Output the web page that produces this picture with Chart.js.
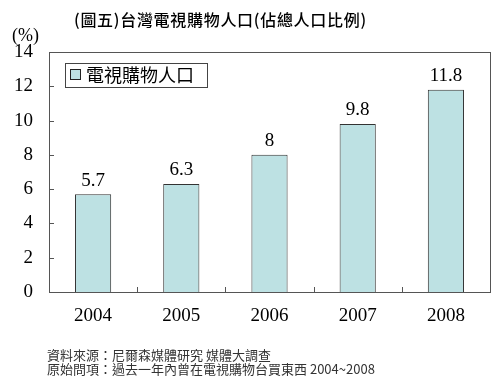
<!DOCTYPE html>
<html>
<head>
<meta charset="utf-8">
<script src="https://cdn.jsdelivr.net/npm/chart.js@4.4.1/dist/chart.umd.min.js"></script>
<style>
  html, body { margin: 0; padding: 0; background: #fff; }
  #wrap { width: 500px; height: 379px; position: relative; }
</style>
</head>
<body>
<div id="wrap"><canvas id="chart" width="500" height="379"></canvas></div>
<script>
'use strict';

// ── Data ─────────────────────────────────────────────
const YEARS  = ['2004', '2005', '2006', '2007', '2008'];
const SHARE  = [5.7, 6.3, 8, 9.8, 11.8];
const SERIES = '電視購物人口';
const TITLE  = '(圖五)台灣電視購物人口(佔總人口比例)';
const UNIT   = '(%)';
const NOTES  = ['資料來源：尼爾森媒體研究 媒體大調查', '原始問項：過去一年內曾在電視購物台買東西 2004~2008'];

const SERIF = "'Liberation Serif', 'DejaVu Serif', serif";
const CJK   = "'Noto Sans CJK TC', 'Noto Sans CJK SC', sans-serif";
const BAR_FILL = '#bde1e3';
const LINE     = '#555';

// ── Plugin: frame, inward ticks, labels, legend, notes ──
const decorations = {
    id: 'decorations',
    afterDatasetsDraw(chart) {
        const { ctx, chartArea: a, scales: { x, y } } = chart;
        ctx.save();

        // plot frame
        ctx.strokeStyle = LINE;
        ctx.lineWidth = 1;
        ctx.strokeRect(Math.round(a.left) + 0.5, Math.round(a.top) + 0.5,
                       Math.round(a.right - a.left), Math.round(a.bottom - a.top));

        // inward ticks
        ctx.beginPath();
        y.ticks.forEach(t => {
            const py = Math.round(y.getPixelForValue(t.value)) + 0.5;
            ctx.moveTo(a.left, py); ctx.lineTo(a.left + 5, py);
        });
        for (let i = 1; i < YEARS.length; i++) {
            const px = Math.round((x.getPixelForValue(i - 1) + x.getPixelForValue(i)) / 2) + 0.5;
            ctx.moveTo(px, a.bottom); ctx.lineTo(px, a.bottom - 5);
        }
        ctx.stroke();

        // value labels
        ctx.fillStyle = '#000';
        ctx.font = '19px ' + SERIF;
        ctx.textAlign = 'center';
        ctx.textBaseline = 'bottom';
        chart.getDatasetMeta(0).data.forEach((bar, i) => {
            ctx.fillText(String(SHARE[i]), bar.x, bar.y - 4);
        });

        // legend box
        ctx.fillStyle = '#fff';
        ctx.fillRect(65, 63, 142, 24);
        ctx.strokeStyle = '#444';
        ctx.strokeRect(65.5, 63.5, 142, 24);
        ctx.fillStyle = BAR_FILL;
        ctx.fillRect(70.5, 69.5, 10, 10);
        ctx.strokeStyle = '#222';
        ctx.strokeRect(70.5, 69.5, 10, 10);
        ctx.fillStyle = '#000';
        ctx.font = '18px ' + CJK;
        ctx.textAlign = 'left';
        ctx.textBaseline = 'middle';
        ctx.fillText(SERIES, 86, 75);

        // title and unit
        ctx.font = '500 16px ' + CJK;
        ctx.letterSpacing = '0.7px';
        ctx.fillText(TITLE, 74, 20);
        ctx.letterSpacing = '0px';
        ctx.font = '18px ' + SERIF;
        ctx.fillText(UNIT, 12, 36);

        // notes
        ctx.fillStyle = '#333';
        ctx.font = '13px ' + CJK;
        NOTES.forEach((n, i) => ctx.fillText(n, 47, 355 + i * 14));

        ctx.restore();
    }
};

new Chart(document.getElementById('chart').getContext('2d'), {
    type: 'bar',
    data: {
        labels: YEARS,
        datasets: [{
            label: SERIES,
            data: SHARE,
            backgroundColor: BAR_FILL,
            borderColor: '#333',
            borderWidth: 1,
            categoryPercentage: 1,
            barPercentage: 0.41,
        }]
    },
    options: {
        responsive: false,
        animation: false,
        layout: { padding: { left: 0, right: 10, top: 52, bottom: 0 } },
        plugins: { legend: { display: false }, tooltip: { enabled: false } },
        scales: {
            x: {
                grid: { display: false, drawTicks: false },
                border: { display: false },
                ticks: { color: '#000', font: { family: SERIF, size: 19 }, padding: 13 },
                afterFit: s => { s.height = 87; }
            },
            y: {
                min: 0, max: 14,
                grid: { display: false, drawTicks: false },
                border: { display: false },
                ticks: { stepSize: 2, color: '#000', font: { family: SERIF, size: 19 }, padding: 16 },
                afterFit: s => { s.width = 49; }
            }
        }
    },
    plugins: [decorations]
});
</script>
</body>
</html>
